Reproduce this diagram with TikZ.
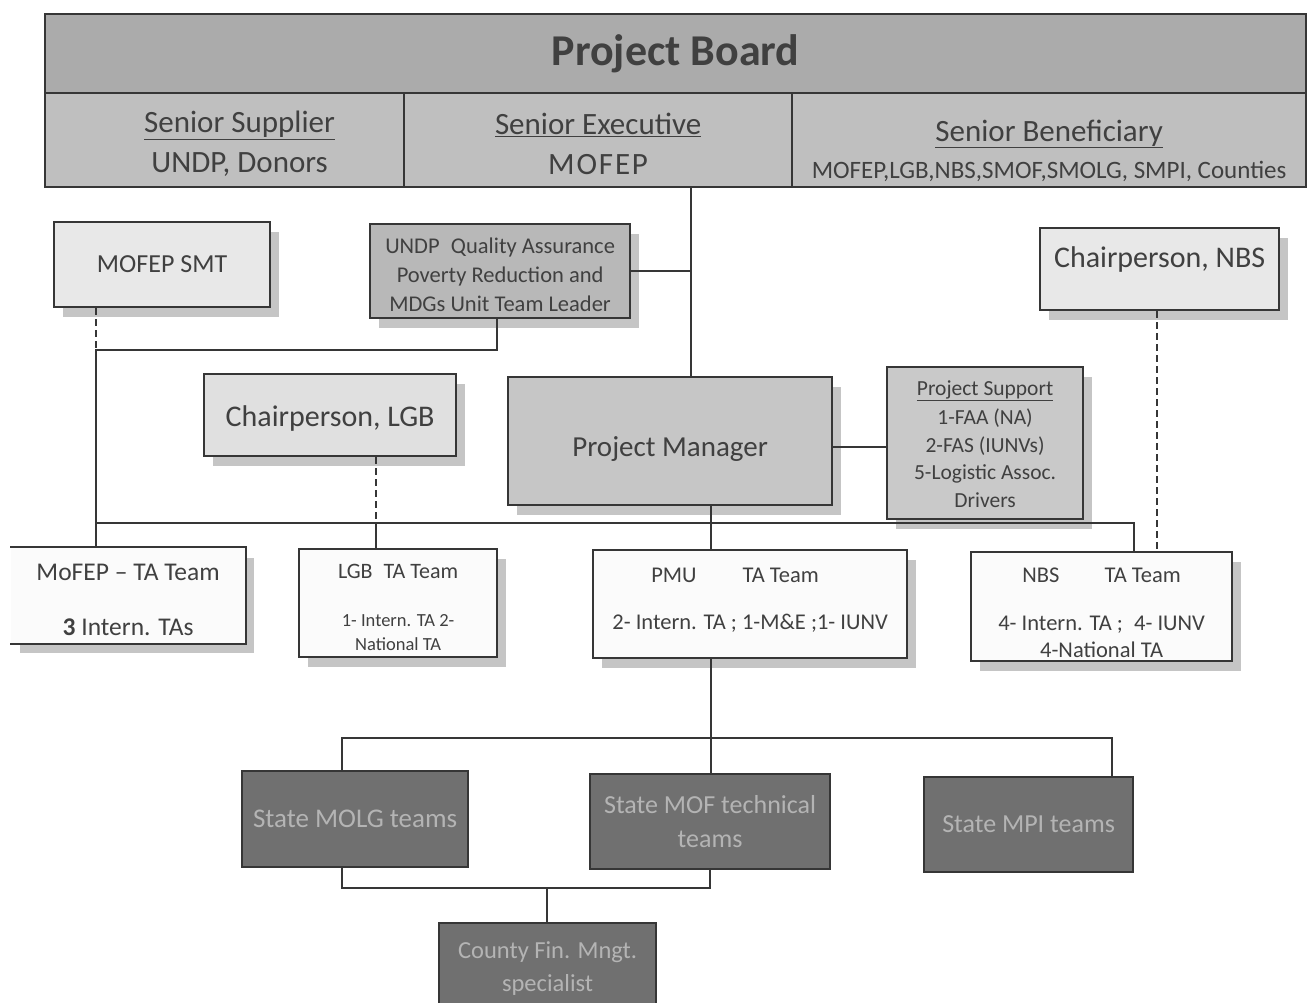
\documentclass[tikz,border=0pt]{standalone}
\usepackage{fontspec}
\setmainfont{Carlito}
\usetikzlibrary{shadows}
\definecolor{ink}{HTML}{404040}
\definecolor{edge}{HTML}{363636}
\definecolor{hdr}{HTML}{ABABAB}
\definecolor{cell}{HTML}{BFBFBF}
\definecolor{lightA}{HTML}{E8E8E8}
\definecolor{lightB}{HTML}{E0E0E0}
\definecolor{midA}{HTML}{B8B8B8}
\definecolor{pmfill}{HTML}{C6C6C6}
\definecolor{psfill}{HTML}{C9C9C9}
\definecolor{teamfill}{HTML}{FBFBFB}
\definecolor{darkfill}{HTML}{707070}
\definecolor{darktext}{HTML}{B4B4B4}
\newcommand\fsz[2]{\fontsize{#1}{#2}\selectfont}
\newcommand\dn[2]{\raisebox{-#1}[\height][\depth]{#2}}
\begin{document}
\begin{tikzpicture}[x=1pt,y=-1pt,
  box/.style={draw=edge, line width=2.2pt, text=ink, align=center, inner sep=0pt, anchor=north west},
  shad/.style={drop shadow={shadow xshift=9pt, shadow yshift=-10pt, fill=black!45, opacity=.5}},
  darkbox/.style={box, fill=darkfill, text=darktext},
  conn/.style={draw=edge, line width=1.8pt},
  dconn/.style={conn, dash pattern=on 7pt off 4pt}]
\clip (0,0) rectangle (1309,1003);
\fill[white] (0,0) rectangle (1309,1003);

% Project board
\node[box, fill=hdr, minimum width=1261pt, minimum height=79pt, font=\fsz{44}{50}\bfseries] (pb) at (44,13) {Project Board};
\node[box, fill=cell, minimum width=359pt, minimum height=94pt, font=\fsz{31}{40}] (ss) at (44,92)
  {\hspace*{30pt}\dn{4pt}{\underline{Senior Supplier}}\\\hspace*{30pt}\dn{4pt}{UNDP, Donors}};
\node[box, fill=cell, minimum width=388pt, minimum height=94pt, font=\fsz{31}{40}] (se) at (403,92)
  {\dn{4pt}{\underline{Senior Executive}}\\\dn{4pt}{\addfontfeature{LetterSpace=6}MOFEP}};
\node[box, fill=cell, minimum width=514pt, minimum height=94pt, font=\fsz{31}{36}] (sb) at (791,92)
  {\dn{10pt}{\underline{Senior Beneficiary}}\\\dn{11pt}{\fsz{25}{30}MOFEP,LGB,NBS,SMOF,SMOLG, SMPI, Counties}};

% second level
\node[box, shad, fill=lightA, minimum width=216pt, minimum height=85pt, font=\fsz{26}{30}] (smt) at (53,221)
  {MOFEP SMT};
\node[box, shad, fill=midA, minimum width=260pt, minimum height=94pt, font=\fsz{22.5}{29}] (qa) at (369,223)
  {\dn{4pt}{UNDP\enspace Quality Assurance}\\\dn{4pt}{Poverty Reduction and}\\\dn{4pt}{MDGs Unit Team Leader}};
\node[box, shad, fill=lightA, minimum width=239pt, minimum height=82pt, font=\fsz{30}{34}] (cnbs) at (1039,227)
  {\dn{-10pt}{Chairperson, NBS}};
\node[box, shad, fill=lightB, minimum width=252pt, minimum height=82pt, font=\fsz{30}{34}] (clgb) at (203,373)
  {\dn{3pt}{Chairperson, LGB}};
\node[box, shad, fill=pmfill, minimum width=324pt, minimum height=128pt, font=\fsz{29}{34}] (pm) at (507,376)
  {\dn{8pt}{Project Manager}};
\node[box, shad, fill=psfill, minimum width=196pt, minimum height=152pt, font=\fsz{21.5}{27.5}] (ps) at (886,366)
  {\underline{Project Support}\\\dn{2pt}{1-FAA (NA)}\\\dn{2pt}{2-FAS (IUNVs)}\\\dn{2pt}{5-Logistic Assoc.}\\\dn{2pt}{Drivers}};

% TA teams
\node[box, draw=none, shad, fill=teamfill, minimum width=234pt, minimum height=95pt, font=\fsz{25.5}{28}] (mtat) at (10,547)
  {\dn{4pt}{MoFEP -- TA Team}\\[27pt]\dn{4pt}{\textbf{3} Intern. TAs}};
\draw[edge, line width=2.2pt] (mtat.north west) -- (mtat.north east) -- (mtat.south east) -- (mtat.south west);
\node[box, shad, fill=teamfill, minimum width=198pt, minimum height=108pt, font=\fsz{22}{24}] (lgbt) at (298,548)
  {\dn{4pt}{LGB\enspace TA Team}\\[24pt]\dn{4pt}{\fsz{18.5}{23}1- Intern. TA 2-}\\\dn{4pt}{\fsz{18.5}{23}National TA}};
\node[box, shad, fill=teamfill, minimum width=314pt, minimum height=108pt, font=\fsz{22.5}{26}] (pmut) at (592,549)
  {\dn{-4pt}{PMU\hspace{46pt}TA Team}\hspace*{30pt}\\[21pt]\dn{-4pt}{2- Intern. TA ; 1-M\&E ;1- IUNV}};
\node[box, shad, fill=teamfill, minimum width=261pt, minimum height=109pt, font=\fsz{22.5}{27}] (nbst) at (970,551)
  {\dn{6pt}{NBS\qquad TA Team}\\[21pt]\dn{6pt}{4- Intern. TA ;\enspace 4- IUNV}\\\dn{6pt}{4-National TA}};

% state teams
\node[darkbox, minimum width=226pt, minimum height=96pt, font=\fsz{27}{32}] (molg) at (241,770)
  {State MOLG teams};
\node[darkbox, minimum width=240pt, minimum height=95pt, font=\fsz{26}{34}] (mof) at (589,773)
  {State MOF technical\\teams};
\node[darkbox, minimum width=209pt, minimum height=95pt, font=\fsz{26}{30}] (mpi) at (923,776)
  {State MPI teams};
\node[darkbox, minimum width=217pt, minimum height=100pt, font=\fsz{24.5}{33}] (county) at (438,922)
  {\dn{-5pt}{County Fin. Mngt.}\\\dn{-5pt}{specialist}};

% connectors
\coordinate (j1) at (691,271);
\draw[conn] (se.south -| j1) -- (pm.north -| j1);
\draw[conn] (qa.east |- j1) -- (j1);

\coordinate (b1) at (96,350);
\coordinate (b2) at (497,350);
\draw[dconn] (smt.south -| b1) -- (b1);
\draw[conn] (qa.south -| b2) -- (b2) -- (b1) -- (mtat.north -| b1);

\coordinate (bl) at (96,523);
\coordinate (br) at (1134,523);
\coordinate (lg) at (376,523);
\coordinate (pu) at (711,523);
\draw[conn] (bl) -- (br) -- (nbst.north -| br);
\draw[dconn] (clgb.south -| lg) -- (lg);
\draw[conn] (lg) -- (lgbt.north -| lg);
\draw[conn] (pm.south -| pu) -- (pmut.north -| pu);

\coordinate (pj) at (850,447);
\draw[conn] (pm.east |- pj) -- (ps.west |- pj);

\coordinate (nd) at (1157,400);
\draw[dconn] (cnbs.south -| nd) -- (nbst.north -| nd);

% lower tree
\coordinate (s0) at (711,738);
\coordinate (s1) at (342,738);
\coordinate (s3) at (1112,738);
\draw[conn] (pmut.south -| s0) -- (s0);
\draw[conn] (molg.north -| s1) -- (s1) -- (s3) -- (mpi.north -| s3);
\draw[conn] (s0) -- (mof.north -| s0);

\coordinate (c1) at (342,888);
\coordinate (c2) at (710,888);
\coordinate (c0) at (547,888);
\draw[conn] (molg.south -| c1) -- (c1) -- (c2) -- (mof.south -| c2);
\draw[conn] (c0) -- (county.north -| c0);
\end{tikzpicture}
\end{document}
